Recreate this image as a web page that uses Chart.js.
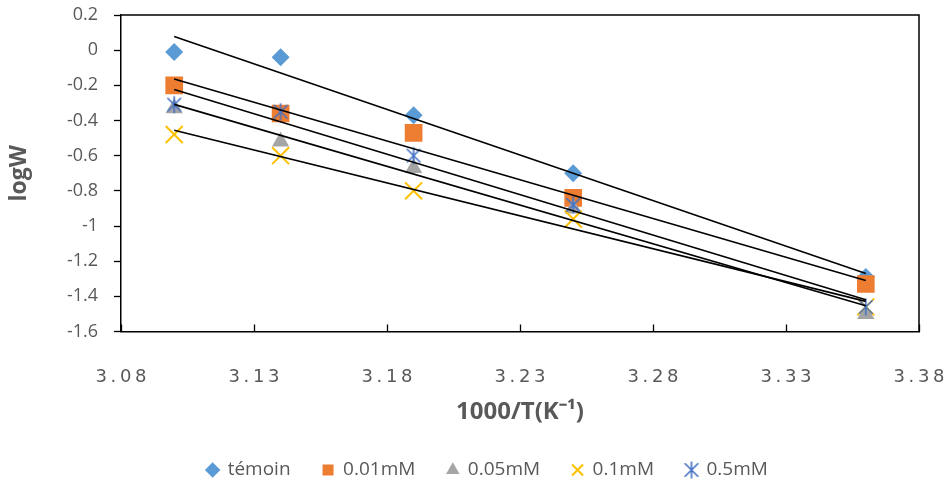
<!DOCTYPE html>
<html>
<head>
<meta charset="utf-8">
<script src="https://cdn.jsdelivr.net/npm/chart.js@4/dist/chart.umd.min.js"></script>
<style>
  html, body { margin: 0; padding: 0; background: #fff; }
  #wrap { width: 951px; height: 487px; }
</style>
</head>
<body>
<div id="wrap"><canvas id="c"></canvas></div>
<script>
// x = 1000/T, one column of points per temperature
const xVals = [3.10, 3.14, 3.19, 3.25, 3.36];
const seriesNames = ["témoin", "0.01mM", "0.05mM", "0.1mM", "0.5mM"];
const temoin = [-0.01, -0.04, -0.37, -0.70, -1.29];
const c001 = [-0.20, -0.36, -0.47, -0.84, -1.33];
const c005 = [-0.33, -0.52, -0.67, -0.90, -1.50];
const c01 = [-0.48, -0.60, -0.80, -0.96, -1.46];
const c05 = [-0.31, -0.35, -0.60, -0.88, -1.46];
const xTicks = { min: 3.08, max: 3.38, step: 0.05 };
const yTicks = { min: -1.6, max: 0.2, step: 0.2 };

const grey = "#595959";
const sans = "'Open Sans'";

// excel "star" marker: an X with a vertical bar
function starMarker(size, color) {
  const cv = document.createElement("canvas");
  cv.width = size; cv.height = size;
  const g = cv.getContext("2d");
  const h = size / 2, r = size / 2 - 1.5;
  g.strokeStyle = color;
  g.lineWidth = 1.6;
  g.beginPath();
  g.moveTo(h - r * 0.8, h - r * 0.8); g.lineTo(h + r * 0.8, h + r * 0.8);
  g.moveTo(h + r * 0.8, h - r * 0.8); g.lineTo(h - r * 0.8, h + r * 0.8);
  g.moveTo(h, h - r); g.lineTo(h, h + r);
  g.stroke();
  return cv;
}

function fit(ys) {
  const n = xVals.length;
  const mx = xVals.reduce((a, b) => a + b, 0) / n;
  const my = ys.reduce((a, b) => a + b, 0) / n;
  let sxy = 0, sxx = 0;
  xVals.forEach((x, i) => { sxy += (x - mx) * (ys[i] - my); sxx += (x - mx) * (x - mx); });
  const k = sxy / sxx;
  const x0 = xVals[0], x1 = xVals[n - 1];
  return [{ x: x0, y: my + k * (x0 - mx) }, { x: x1, y: my + k * (x1 - mx) }];
}

const pts = ys => ys.map((y, i) => ({ x: xVals[i], y }));
const allY = [temoin, c001, c005, c01, c05];

const styles = [
  { pointStyle: "rectRot", radius: 9, bg: "#5B9BD5", bc: "#5B9BD5", bw: 0 },
  { pointStyle: "rect", radius: 12.5, bg: "#ED7D31", bc: "#ED7D31", bw: 0 },
  { pointStyle: "triangle", radius: 10, bg: "#A5A5A5", bc: "#A5A5A5", bw: 0 },
  { pointStyle: "crossRot", radius: 12, bg: "#FFC000", bc: "#FFC000", bw: 2 },
  { pointStyle: starMarker(20, "#4472C4"), radius: 10, bg: "#4472C4", bc: "#4472C4", bw: 1.6 }
];

const datasets = [];
allY.forEach((ys, i) => {
  const s = styles[i];
  datasets.push({
    label: seriesNames[i],
    data: pts(ys),
    pointStyle: s.pointStyle,
    pointRadius: s.radius,
    pointHoverRadius: s.radius,
    backgroundColor: s.bg,
    borderColor: s.bc,
    borderWidth: s.bw,
    showLine: false,
    order: 10 - i
  });
});
allY.forEach((ys, i) => {
  datasets.push({
    label: "trend" + i,
    type: "line",
    data: fit(ys),
    borderColor: "#000",
    borderWidth: 1.6,
    pointRadius: 0,
    fill: false,
    order: 0
  });
});

// box around the plot + inward ticks on the x axis
const frame = {
  id: "frame",
  beforeDatasetsDraw(chart) {
    const { ctx, chartArea: a } = chart;
    const xs = chart.scales.x;
    ctx.save();
    ctx.strokeStyle = "#000";
    ctx.lineWidth = 1.5;
    ctx.beginPath();
    ctx.moveTo(a.left, a.top); ctx.lineTo(a.right, a.top); ctx.lineTo(a.right, a.bottom);
    ctx.stroke();
    ctx.lineWidth = 1.3;
    ctx.beginPath();
    xs.ticks.forEach(t => {
      const px = Math.round(xs.getPixelForValue(t.value)) + 0.5;
      ctx.moveTo(px, a.bottom); ctx.lineTo(px, a.bottom - 7);
    });
    ctx.stroke();
    ctx.restore();
  }
};

new Chart(document.getElementById("c"), {
  type: "scatter",
  data: { datasets },
  plugins: [frame],
  options: {
    responsive: true,
    maintainAspectRatio: false,
    animation: false,
    layout: { padding: { left: 24, right: 0, top: 15, bottom: -2.5 } },
    plugins: {
      tooltip: { enabled: false },
      legend: {
        position: "bottom",
        labels: {
          usePointStyle: true,
          boxWidth: 11,
          boxHeight: 11,
          padding: 32,
          color: grey,
          font: { family: sans, size: 19 },
          filter: item => !item.text.startsWith("trend"),
          sort: (a, b) => a.datasetIndex - b.datasetIndex
        }
      }
    },
    scales: {
      x: {
        type: "linear",
        min: xTicks.min,
        max: xTicks.max,
        afterFit: s => { s.height = 97; s.paddingLeft = 0; s.paddingRight = 0; },
        ticks: {
          stepSize: xTicks.step,
          padding: 35,
          color: grey,
          font: { family: "'DejaVu Sans'", size: 18 },
          callback: v => v.toFixed(2).split("").join("\u2009")
        },
        grid: { display: true, drawOnChartArea: false, drawTicks: false },
        border: { display: true, color: "#000", width: 1.5 },
        title: {
          display: true,
          text: "1000/T(K\u207B\u00B9)",
          color: grey,
          font: { family: sans, size: 24, weight: "bold" },
          padding: { top: 2, bottom: 2 }
        }
      },
      y: {
        min: yTicks.min,
        max: yTicks.max,
        afterFit: s => { s.width = 97; s.paddingTop = 0; s.paddingBottom = 0; },
        ticks: {
          stepSize: yTicks.step,
          padding: 16,
          color: grey,
          font: { family: sans, size: 18 },
          callback: v => String(Number(v.toFixed(1)))
        },
        grid: { drawOnChartArea: false, tickLength: 7, tickColor: "#000", tickWidth: 1.3 },
        border: { display: true, color: "#000", width: 1.5 },
        title: {
          display: true,
          text: "logW",
          color: grey,
          font: { family: sans, size: 23, weight: "bold" },
          padding: { top: -18, bottom: 0 }
        }
      },
      // empty right-hand gutter
      gutter: {
        type: "linear",
        position: "right",
        afterFit: s => { s.width = 32; s.paddingTop = 0; s.paddingBottom = 0; },
        ticks: { display: false },
        grid: { display: false },
        border: { display: false }
      }
    }
  }
});
</script>
</body>
</html>
